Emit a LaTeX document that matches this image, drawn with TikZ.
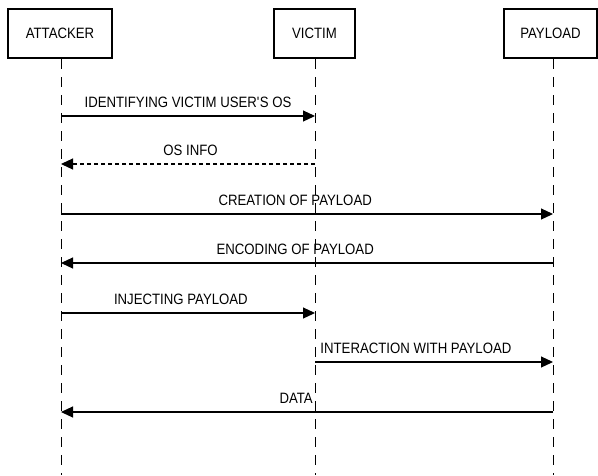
\documentclass[tikz,border=0pt]{standalone}
\usepackage{fontspec}
\setmainfont[FakeStretch=0.88]{Liberation Sans}
\usetikzlibrary{arrows.meta,shadows}
\begin{document}
\begin{tikzpicture}[x=1pt,y=-1pt,
  actor/.style={draw=black, fill=white, line width=2pt, minimum height=49pt, inner sep=0pt,
    font=\fontsize{15}{17}\selectfont,
    drop shadow={shadow xshift=1pt, shadow yshift=-1pt, fill=black, opacity=1}},
  lifeline/.style={draw=black, line width=1pt, dash pattern=on 10pt off 8pt},
  msg/.style={draw=black, line width=1.2pt, -{Triangle[length=12pt,width=11pt]}},
  reply/.style={msg, dash pattern=on 4pt off 3pt},
  lbl/.style={above=7.5pt, inner sep=0pt, text depth=0pt, font=\fontsize{15}{17}\selectfont}
]
\useasboundingbox (0,0) rectangle (598,475);
\path[clip] (0,0) rectangle (598,475);

\node[actor, minimum width=104pt] (A) at (60,33.5) {ATTACKER};
\node[actor, minimum width=81pt] (V) at (314.5,33.5) {VICTIM};
\node[actor, minimum width=93pt] (P) at (550.5,33.5) {PAYLOAD};

% lifeline ends
\coordinate (Atop) at (61,59);  \coordinate (Abot) at (61,475);
\coordinate (Vtop) at (315,59); \coordinate (Vbot) at (315,475);
\coordinate (Ptop) at (553,59); \coordinate (Pbot) at (553,475);
\draw[lifeline] (Atop) -- (Abot);
\draw[lifeline] (Vtop) -- (Vbot);
\draw[lifeline] (Ptop) -- (Pbot);

% message points on lifelines
\coordinate (a1) at (61,116);  \coordinate (v1) at (315,116);
\coordinate (a2) at (61,164);  \coordinate (v2) at (315,164);
\coordinate (a3) at (61,214);  \coordinate (p3) at (553,214);
\coordinate (a4) at (61,263);  \coordinate (p4) at (553,263);
\coordinate (a5) at (61,313);  \coordinate (v5) at (315,313);
\coordinate (v6) at (315,362); \coordinate (p6) at (553,362);
\coordinate (a7) at (61,412);  \coordinate (p7) at (553,412);

\draw[msg] (a1) -- node[lbl, pos=0.5] {IDENTIFYING VICTIM USER\textquotesingle S OS} (v1);
\draw[reply] (v2) -- node[lbl, pos=0.49] {OS INFO} (a2);
\draw[msg] (a3) -- node[lbl, pos=0.476] {CREATION OF PAYLOAD} (p3);
\draw[msg] (p4) -- node[lbl, pos=0.524] {ENCODING OF PAYLOAD} (a4);
\draw[msg] (a5) -- node[lbl, pos=0.472] {INJECTING PAYLOAD} (v5);
\draw[msg] (v6) -- node[lbl, pos=0.424] {INTERACTION WITH PAYLOAD} (p6);
\draw[msg] (p7) -- node[lbl, pos=0.522] {DATA} (a7);
\end{tikzpicture}
\end{document}
